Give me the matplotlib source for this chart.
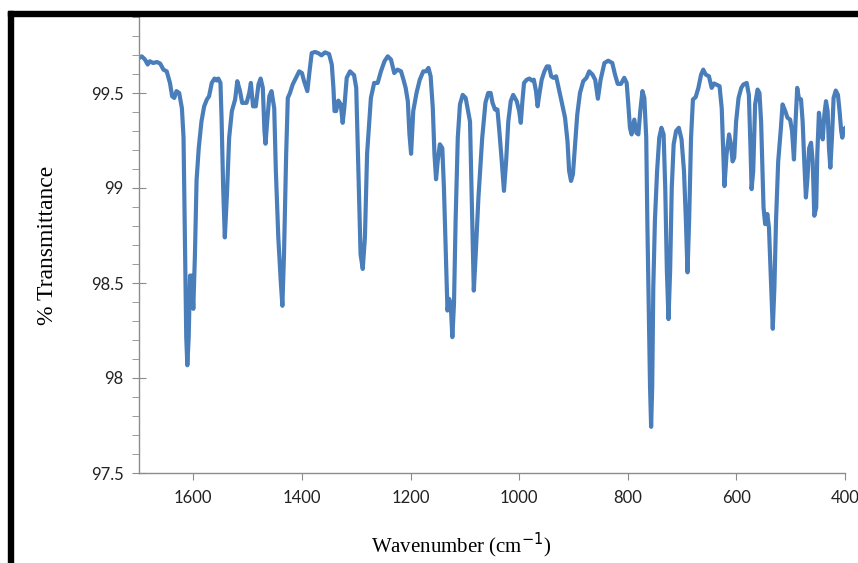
import numpy as np
import matplotlib
matplotlib.use('Agg')
import matplotlib.pyplot as plt
from matplotlib.patches import Rectangle
from matplotlib.ticker import MultipleLocator, FuncFormatter

# IR spectrum (wavenumber in cm-1, % transmittance)
wavenumber = [
    1700, 1695, 1689, 1684, 1680, 1674, 1667, 1661, 1655, 1649,
    1643, 1639, 1635, 1631, 1626, 1621, 1618, 1615, 1613, 1611,
    1608.5, 1606, 1603, 1600, 1597, 1594, 1590, 1585, 1580, 1575,
    1571, 1566, 1561, 1557, 1554, 1550, 1548, 1545, 1542, 1538,
    1534, 1529, 1523, 1519, 1514, 1510, 1502, 1497, 1494, 1490,
    1485, 1480, 1476, 1472, 1469, 1467, 1464, 1460, 1456, 1451,
    1448, 1443.5, 1439, 1436, 1433, 1429, 1426, 1422, 1417, 1411,
    1405, 1400, 1396, 1390, 1386, 1382, 1376, 1370, 1364, 1357.5,
    1350, 1345, 1342, 1340, 1337, 1333, 1328.5, 1325, 1322, 1317.5,
    1311.5, 1304, 1300, 1296, 1292, 1288, 1284, 1280, 1273, 1267,
    1260.5, 1254.5, 1248, 1242, 1236, 1230, 1224, 1217.5, 1213, 1209,
    1205, 1202, 1199, 1195, 1189, 1183, 1176.5, 1171.5, 1167, 1163,
    1159, 1156, 1153, 1150, 1146, 1141.5, 1138.5, 1135, 1132, 1129,
    1126, 1123, 1120, 1117, 1113, 1109, 1104, 1098.5, 1094, 1090.5,
    1087, 1083.5, 1080, 1075, 1068, 1062, 1057, 1052.5, 1049, 1044.5,
    1040, 1036.5, 1032, 1028, 1024, 1020, 1015.5, 1011, 1004.5, 1000,
    997, 994, 991, 986, 981, 977, 973, 969, 966, 963,
    958.5, 953.5, 949, 945, 941, 937, 932, 928, 922, 915.5,
    911, 908, 904.5, 901, 897, 893, 888, 882, 876, 871,
    865, 860, 855, 850, 843, 836, 828.5, 823.5, 818.5, 812.5,
    806.5, 802, 799, 796, 793, 788, 784, 780.5, 777, 773,
    769.5, 766, 764, 761, 759, 757, 755, 753, 750, 746,
    742, 738, 734, 731, 728, 725, 722, 719, 715.5, 711,
    706, 701, 696.5, 693, 690, 687, 683.5, 680, 675, 670,
    665, 661, 656.5, 650.5, 645.5, 641, 637.5, 631, 627, 624,
    622, 618, 613.5, 610, 607, 604, 600.5, 596, 591, 587,
    581, 577, 574, 572, 569, 565.5, 561, 557.5, 554.5, 552,
    550, 547, 543, 540, 537, 533, 530, 527, 523, 518,
    515, 510, 506, 501, 497.5, 494, 491, 488, 485, 481,
    478, 475, 472, 469, 466, 462.5, 459.5, 456.5, 453, 451,
    448, 444, 441, 438, 435, 432, 429.5, 427, 424, 421,
    417, 413, 410, 407, 405, 402, 400,
]
transmittance = [
    99.684, 99.693, 99.676, 99.65, 99.667, 99.658, 99.663, 99.655, 99.623, 99.614,
    99.553, 99.483, 99.474, 99.51, 99.50, 99.42, 99.265, 98.65, 98.215, 98.067,
    98.215, 98.539, 98.539, 98.364, 98.65, 99.04, 99.21, 99.35, 99.43, 99.466,
    99.483, 99.553, 99.576, 99.566, 99.576, 99.553, 99.37, 99.0, 98.74, 98.97,
    99.265, 99.405, 99.466, 99.562, 99.51, 99.448, 99.448, 99.50, 99.553, 99.43,
    99.43, 99.545, 99.576, 99.527, 99.30, 99.233, 99.35, 99.483, 99.51, 99.42,
    99.09, 98.74, 98.51, 98.38, 98.65, 99.18, 99.474, 99.50, 99.545, 99.58,
    99.614, 99.605, 99.562, 99.51, 99.614, 99.71, 99.716, 99.71, 99.698, 99.714,
    99.705, 99.65, 99.527, 99.405, 99.405, 99.46, 99.44, 99.343, 99.42, 99.58,
    99.614, 99.594, 99.527, 99.09, 98.65, 98.574, 98.74, 99.18, 99.474, 99.553,
    99.553, 99.614, 99.667, 99.693, 99.676, 99.605, 99.623, 99.614, 99.57, 99.527,
    99.457, 99.282, 99.18, 99.405, 99.50, 99.57, 99.614, 99.614, 99.632, 99.588,
    99.42, 99.18, 99.046, 99.14, 99.23, 99.21, 99.0, 98.65, 98.355, 98.417,
    98.39, 98.215, 98.39, 98.83, 99.265, 99.44, 99.49, 99.474, 99.405, 99.35,
    98.915, 98.46, 98.65, 98.95, 99.265, 99.45, 99.50, 99.50, 99.448, 99.413,
    99.413, 99.30, 99.14, 98.985, 99.14, 99.35, 99.457, 99.49, 99.457, 99.405,
    99.343, 99.457, 99.553, 99.57, 99.576, 99.566, 99.57, 99.51, 99.43, 99.49,
    99.57, 99.614, 99.64, 99.64, 99.588, 99.58, 99.588, 99.536, 99.457, 99.37,
    99.247, 99.09, 99.037, 99.072, 99.23, 99.387, 99.50, 99.562, 99.58, 99.614,
    99.597, 99.57, 99.47, 99.57, 99.658, 99.67, 99.658, 99.597, 99.548, 99.548,
    99.58, 99.553, 99.44, 99.317, 99.282, 99.36, 99.29, 99.282, 99.405, 99.51,
    99.474, 99.265, 98.83, 98.30, 97.953, 97.743, 97.953, 98.478, 98.83, 99.09,
    99.265, 99.317, 99.282, 99.0, 98.565, 98.31, 98.565, 99.0, 99.23, 99.30,
    99.317, 99.256, 99.09, 98.83, 98.556, 98.83, 99.265, 99.466, 99.478, 99.527,
    99.597, 99.623, 99.597, 99.588, 99.527, 99.55, 99.545, 99.536, 99.42, 99.18,
    99.01, 99.18, 99.282, 99.23, 99.14, 99.16, 99.35, 99.474, 99.527, 99.545,
    99.553, 99.49, 99.21, 98.994, 99.09, 99.44, 99.518, 99.50, 99.35, 99.09,
    98.897, 98.81, 98.863, 98.79, 98.565, 98.259, 98.478, 98.83, 99.14, 99.317,
    99.44, 99.405, 99.37, 99.36, 99.30, 99.15, 99.35, 99.527, 99.474, 99.466,
    99.35, 99.14, 98.95, 99.055, 99.21, 99.238, 99.14, 98.854, 98.897, 99.18,
    99.396, 99.30, 99.256, 99.387, 99.457, 99.405, 99.21, 99.107, 99.265, 99.474,
    99.513, 99.49, 99.405, 99.30, 99.265, 99.31, 99.315,
]
x_ticks = [1600, 1400, 1200, 1000, 800, 600, 400]
y_ticks = [97.5, 98, 98.5, 99, 99.5]

fig = plt.figure(figsize=(8.58, 5.63), dpi=100)
ax = fig.add_axes([139 / 858, 1 - 473 / 563, 706 / 858, 456 / 563])

ax.plot(wavenumber, transmittance, color='#4a7ebb', lw=3.0, solid_joinstyle='round')

ax.set_xlim(1700, 400)
ax.set_ylim(97.5, 99.9)

# spines like the spreadsheet chart: gray left/bottom only
for s in ['top', 'right']:
    ax.spines[s].set_visible(False)
for s in ['left', 'bottom']:
    ax.spines[s].set_color('#8c8c8c')
    ax.spines[s].set_linewidth(1.0)

ax.set_xticks(x_ticks)
ax.set_yticks(y_ticks)
ax.yaxis.set_minor_locator(MultipleLocator(0.1))
ax.yaxis.set_major_formatter(FuncFormatter(lambda v, p: ('%g' % v)))
ax.tick_params(axis='y', which='major', direction='inout', length=10, color='#8c8c8c',
               labelsize=12, pad=6)
ax.tick_params(axis='y', which='minor', direction='out', length=5, color='#8c8c8c')
ax.tick_params(axis='x', which='major', direction='out', length=5, color='#8c8c8c',
               labelsize=12, pad=7)
for lab in ax.get_xticklabels() + ax.get_yticklabels():
    lab.set_fontfamily('Lato')
    lab.set_color('#222222')

ax.set_xlabel('Wavenumber (cm$^{-1}$)', family='Liberation Serif', fontsize=15)
ax.xaxis.set_label_coords(0.457, -0.158)
ax.set_ylabel('% Transmittance', family='Liberation Serif', fontsize=17)
ax.yaxis.set_label_coords(-0.13, 0.5)
ax.xaxis.label.set_va('center')
ax.yaxis.label.set_va('center')

# black frame remnants along the top and left edges
fig.patches.append(Rectangle((8 / 858, 0), 5 / 858, 1 - 11 / 563,
                             transform=fig.transFigure, color='black', zorder=10))
fig.patches.append(Rectangle((8 / 858, 1 - 16 / 563), 1, 5 / 563,
                             transform=fig.transFigure, color='black', zorder=10))

fig.savefig('out.png', dpi=100)
